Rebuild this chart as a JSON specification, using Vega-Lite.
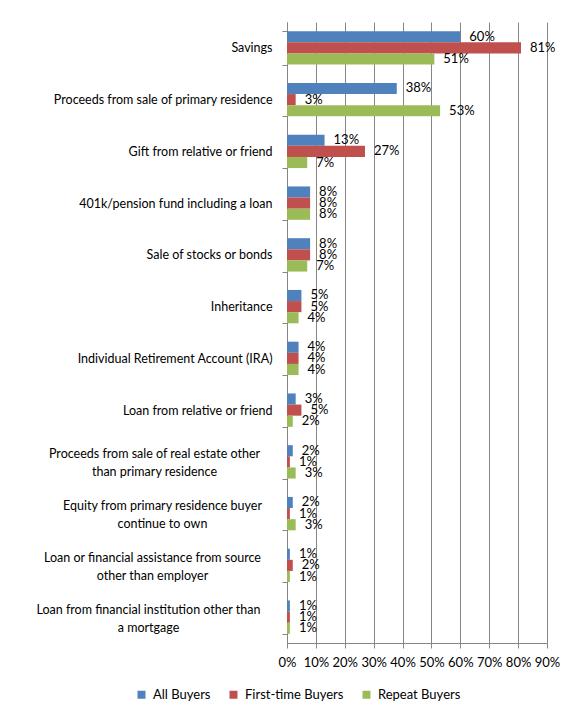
{
  "$schema": "https://vega.github.io/schema/vega-lite/v6.json",
  "width": 260,
  "height": 621,
  "autosize": {"type": "none"},
  "padding": {"left": 287, "top": 22, "right": 30, "bottom": 71},
  "background": "white",
  "config": {"font": "Lato", "view": {"stroke": null}},
  "data": {"values": [
    {"source": "Savings", "buyer": "All Buyers", "share": 0.60},
    {"source": "Savings", "buyer": "First-time Buyers", "share": 0.81},
    {"source": "Savings", "buyer": "Repeat Buyers", "share": 0.51},
    {"source": "Proceeds from sale of primary residence", "buyer": "All Buyers", "share": 0.38},
    {"source": "Proceeds from sale of primary residence", "buyer": "First-time Buyers", "share": 0.03},
    {"source": "Proceeds from sale of primary residence", "buyer": "Repeat Buyers", "share": 0.53},
    {"source": "Gift from relative or friend", "buyer": "All Buyers", "share": 0.13},
    {"source": "Gift from relative or friend", "buyer": "First-time Buyers", "share": 0.27},
    {"source": "Gift from relative or friend", "buyer": "Repeat Buyers", "share": 0.07},
    {"source": "401k/pension fund including a loan", "buyer": "All Buyers", "share": 0.08},
    {"source": "401k/pension fund including a loan", "buyer": "First-time Buyers", "share": 0.08},
    {"source": "401k/pension fund including a loan", "buyer": "Repeat Buyers", "share": 0.08},
    {"source": "Sale of stocks or bonds", "buyer": "All Buyers", "share": 0.08},
    {"source": "Sale of stocks or bonds", "buyer": "First-time Buyers", "share": 0.08},
    {"source": "Sale of stocks or bonds", "buyer": "Repeat Buyers", "share": 0.07},
    {"source": "Inheritance", "buyer": "All Buyers", "share": 0.05},
    {"source": "Inheritance", "buyer": "First-time Buyers", "share": 0.05},
    {"source": "Inheritance", "buyer": "Repeat Buyers", "share": 0.04},
    {"source": "Individual Retirement Account (IRA)", "buyer": "All Buyers", "share": 0.04},
    {"source": "Individual Retirement Account (IRA)", "buyer": "First-time Buyers", "share": 0.04},
    {"source": "Individual Retirement Account (IRA)", "buyer": "Repeat Buyers", "share": 0.04},
    {"source": "Loan from relative or friend", "buyer": "All Buyers", "share": 0.03},
    {"source": "Loan from relative or friend", "buyer": "First-time Buyers", "share": 0.05},
    {"source": "Loan from relative or friend", "buyer": "Repeat Buyers", "share": 0.02},
    {"source": "Proceeds from sale of real estate other than primary residence", "buyer": "All Buyers", "share": 0.02},
    {"source": "Proceeds from sale of real estate other than primary residence", "buyer": "First-time Buyers", "share": 0.01},
    {"source": "Proceeds from sale of real estate other than primary residence", "buyer": "Repeat Buyers", "share": 0.03},
    {"source": "Equity from primary residence buyer continue to own", "buyer": "All Buyers", "share": 0.02},
    {"source": "Equity from primary residence buyer continue to own", "buyer": "First-time Buyers", "share": 0.01},
    {"source": "Equity from primary residence buyer continue to own", "buyer": "Repeat Buyers", "share": 0.03},
    {"source": "Loan or financial assistance from source other than employer", "buyer": "All Buyers", "share": 0.01},
    {"source": "Loan or financial assistance from source other than employer", "buyer": "First-time Buyers", "share": 0.02},
    {"source": "Loan or financial assistance from source other than employer", "buyer": "Repeat Buyers", "share": 0.01},
    {"source": "Loan from financial institution other than a mortgage", "buyer": "All Buyers", "share": 0.01},
    {"source": "Loan from financial institution other than a mortgage", "buyer": "First-time Buyers", "share": 0.01},
    {"source": "Loan from financial institution other than a mortgage", "buyer": "Repeat Buyers", "share": 0.01}
  ]},
  "encoding": {
    "y": {
      "field": "source", "type": "nominal", "sort": null,
      "scale": {"paddingInner": 0.355, "paddingOuter": 0.1775},
      "axis": {
        "title": null,
        "domainColor": "#868686",
        "tickColor": "#868686",
        "tickSize": 5,
        "tickBand": "extent",
        "labelFontSize": 12.5,
        "labelColor": "black",
        "labelLimit": 0,
        "labelLineHeight": 18,
        "labelExpr": "datum.value == 'Proceeds from sale of real estate other than primary residence' ? ['Proceeds from sale of real estate other', 'than primary residence'] : datum.value == 'Equity from primary residence buyer continue to own' ? ['Equity from primary residence buyer', 'continue to own'] : datum.value == 'Loan or financial assistance from source other than employer' ? ['Loan or financial assistance from source', 'other than employer'] : datum.value == 'Loan from financial institution other than a mortgage' ? ['Loan from financial institution other than', 'a mortgage'] : datum.label",
        "labelAlign": {"condition": {"test": "datum.value == 'Proceeds from sale of real estate other than primary residence' || datum.value == 'Equity from primary residence buyer continue to own' || datum.value == 'Loan or financial assistance from source other than employer' || datum.value == 'Loan from financial institution other than a mortgage'", "value": "center"}, "value": "right"},
        "labelOffset": {"condition": {"test": "datum.value == 'Proceeds from sale of real estate other than primary residence' || datum.value == 'Equity from primary residence buyer continue to own' || datum.value == 'Loan or financial assistance from source other than employer' || datum.value == 'Loan from financial institution other than a mortgage'", "value": -8}, "value": 0},
        "labelPadding": {"condition": [
          {"test": "datum.value == 'Proceeds from sale of real estate other than primary residence'", "value": 128},
          {"test": "datum.value == 'Equity from primary residence buyer continue to own'", "value": 120},
          {"test": "datum.value == 'Loan or financial assistance from source other than employer'", "value": 130},
          {"test": "datum.value == 'Loan from financial institution other than a mortgage'", "value": 134}
        ], "value": 10}
      }
    },
    "yOffset": {
      "field": "buyer", "type": "nominal",
      "sort": ["All Buyers", "First-time Buyers", "Repeat Buyers"],
      "scale": {"paddingInner": 0, "paddingOuter": 0}
    },
    "x": {
      "field": "share", "type": "quantitative",
      "scale": {"domain": [0, 0.9], "nice": false},
      "axis": {
        "title": null,
        "values": [0, 0.1, 0.2, 0.3, 0.4, 0.5, 0.6, 0.7, 0.8, 0.9],
        "format": ".0%",
        "grid": true,
        "gridColor": "#868686",
        "domainColor": "#868686",
        "tickColor": "#868686",
        "tickSize": 5,
        "labelPadding": 8,
        "labelFontSize": 13,
        "labelColor": "black",
        "labelFlush": false,
        "labelOverlap": false
      }
    }
  },
  "layer": [
    {
      "mark": {"type": "bar"},
      "encoding": {
        "color": {
          "field": "buyer", "type": "nominal",
          "sort": ["All Buyers", "First-time Buyers", "Repeat Buyers"],
          "scale": {"range": ["#4F81BD", "#C0504D", "#9BBB59"]},
          "legend": {
            "title": null,
            "orient": "none",
            "legendX": -152,
            "legendY": 666,
            "direction": "horizontal",
            "symbolType": "square",
            "symbolSize": 64,
            "symbolStrokeWidth": 0,
            "labelFontSize": 13,
            "labelColor": "black",
            "labelOffset": 5,
            "columnPadding": 16
          }
        }
      }
    },
    {
      "mark": {"type": "text", "align": "left", "baseline": "middle", "dx": 9, "fontSize": 13, "color": "black"},
      "encoding": {"text": {"field": "share", "type": "quantitative", "format": ".0%"}}
    }
  ]
}
